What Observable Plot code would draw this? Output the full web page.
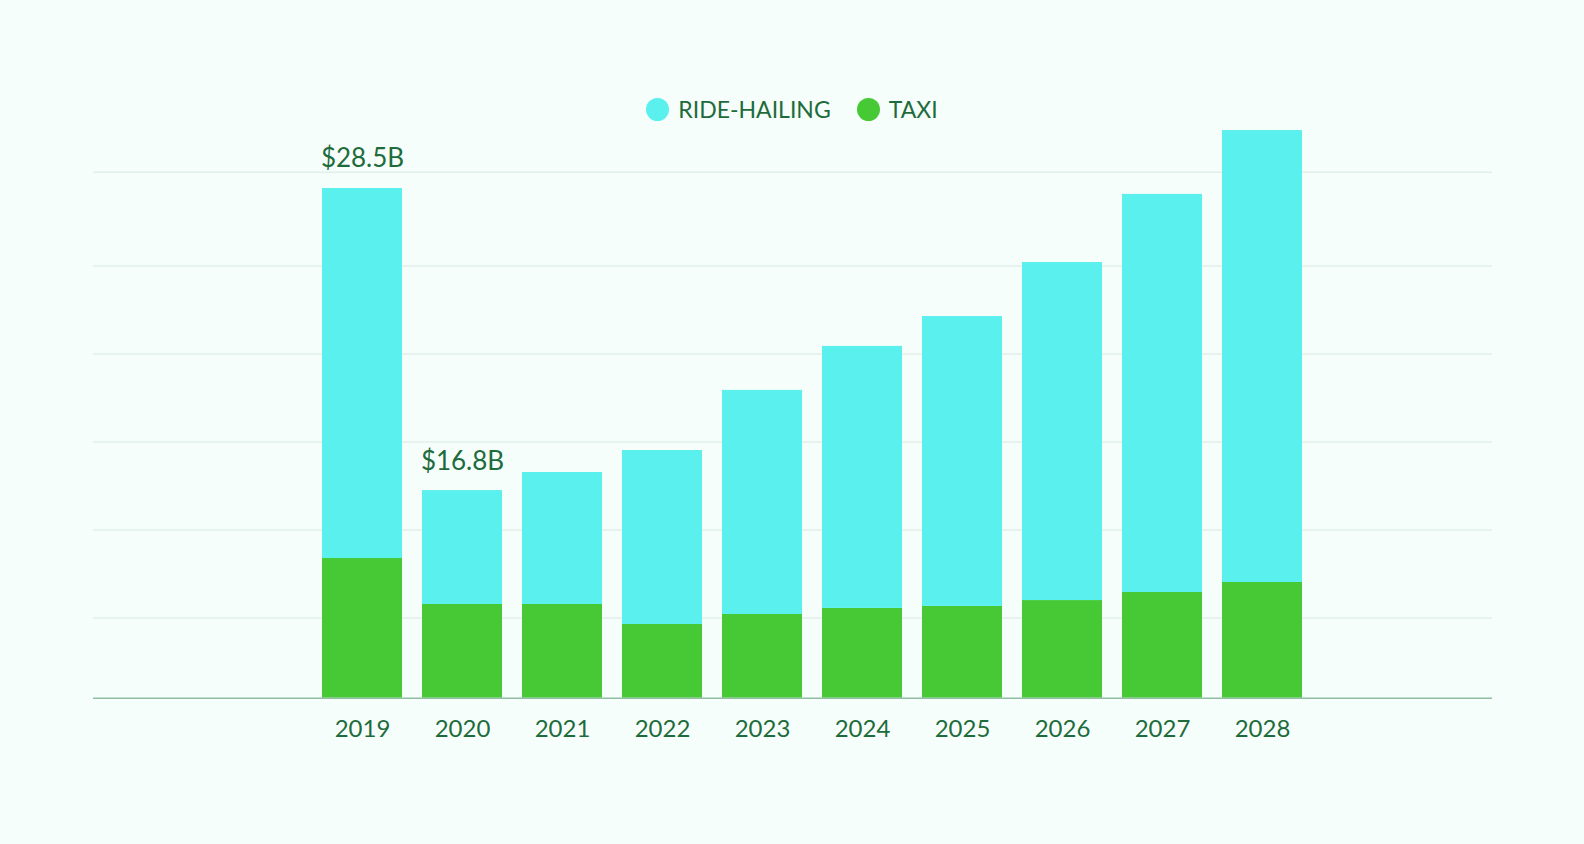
<!DOCTYPE html>
<html>
<head>
<meta charset="utf-8">
<script src="https://cdn.jsdelivr.net/npm/d3@7"></script>
<script src="https://cdn.jsdelivr.net/npm/@observablehq/plot@0.6"></script>
<style>
  html, body { margin: 0; padding: 0; background: #f5fefb; }
  body { width: 1584px; height: 844px; overflow: hidden; font-family: Lato, "Noto Sans", sans-serif; }
  #legend { height: 26px; padding-top: 96px; padding-bottom: 2px; display: flex; justify-content: center; align-items: center; gap: 26px; }
  .item { display: flex; align-items: center; gap: 9px; font-size: 23px; line-height: 26px; color: #1e6b3c; }
  .sw { width: 23px; height: 23px; border-radius: 50%; display: inline-block; }
  #chart svg { display: block; }
</style>
</head>
<body>
<div id="legend"></div>
<div id="chart"></div>
<script>
// ---- data (values in $B) ----
const years = ["2019", "2020", "2021", "2022", "2023", "2024", "2025", "2026", "2027", "2028"];
const rideHailing = [20.69, 6.37, 7.38, 9.73, 12.53, 14.65, 16.21, 18.90, 22.26, 25.27];
const taxi = [7.81, 5.24, 5.24, 4.12, 4.68, 5.02, 5.13, 5.46, 5.91, 6.47];
const totalLabels = ["$28.5B", "$16.8B", null, null, null, null, null, null, null, null];
const seriesNames = ["RIDE-HAILING", "TAXI"];
const seriesColors = ["#5af0ee", "#46c935"];
const gridValues = [4.48, 9.40, 14.32, 19.24, 24.16, 29.41];

const textColor = "#1e6b3c";

// legend
const legend = document.getElementById("legend");
seriesNames.forEach((name, i) => {
  const it = document.createElement("div");
  it.className = "item";
  const sw = document.createElement("span");
  sw.className = "sw";
  sw.style.background = seriesColors[i];
  const tx = document.createElement("span");
  tx.textContent = name;
  it.appendChild(sw);
  it.appendChild(tx);
  legend.appendChild(it);
});

// long table: taxi first (bottom), ride-hailing on top
const rows = [];
years.forEach((y, i) => {
  rows.push({year: y, series: "TAXI", value: taxi[i]});
  rows.push({year: y, series: "RIDE-HAILING", value: rideHailing[i]});
});
const labelRows = years
  .map((y, i) => ({year: y, total: taxi[i] + rideHailing[i], label: totalLabels[i]}))
  .filter(d => d.label);

const chart = Plot.plot({
  width: 1584,
  height: 720,
  marginLeft: 93,
  marginRight: 92,
  marginTop: 1.4,
  marginBottom: 146.3,
  style: {background: "transparent", fontFamily: "Lato, 'Noto Sans', sans-serif", fontSize: "24px", color: textColor},
  x: {domain: years, range: [312, 1312], paddingInner: 0.2, paddingOuter: 0.1, label: null},
  y: {domain: [0, 32], axis: null},
  color: {domain: seriesNames, range: seriesColors},
  marks: [
    Plot.ruleY(gridValues, {stroke: "#e2efe9", strokeWidth: 1.5}),
    Plot.barY(rows, Plot.stackY({x: "year", y: "value", fill: "series", order: ["TAXI", "RIDE-HAILING"]})),
    Plot.ruleY([0], {stroke: "#8fbfa0", strokeWidth: 1.5}),
    Plot.text(labelRows, {x: "year", y: "total", text: "label", dy: -21, lineAnchor: "bottom", fontSize: 26, fill: textColor}),
    Plot.axisX({tickSize: 0, tickPadding: 22, fontSize: 24, color: textColor, label: null})
  ]
});
document.getElementById("chart").appendChild(chart);
</script>
</body>
</html>
